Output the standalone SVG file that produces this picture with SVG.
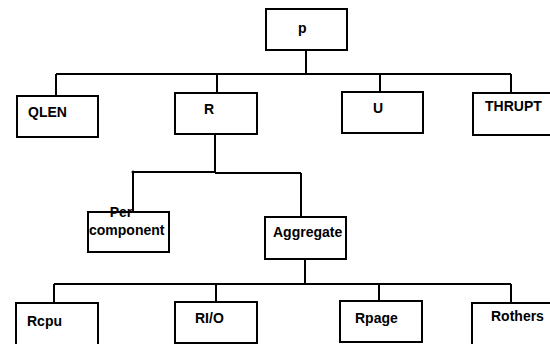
<svg xmlns="http://www.w3.org/2000/svg" width="550" height="344" viewBox="0 0 550 344">
<style>
.box{fill:#fff;stroke:#000;stroke-width:2}
.ln{fill:none;stroke:#000;stroke-width:2}
text{font-family:"Liberation Sans",Arial,sans-serif;font-weight:bold;font-size:14px;fill:#000}
</style>
<rect width="550" height="344" fill="#fff"/>
<g id="connectors">
<path class="ln" d="M306 50V74M56 74H511M56 74V96M217 74V93M380 74V92M511 74V93"/>
<path class="ln" d="M215 134V173M133 172H215M215 173H301M133 172V212M301 173V217"/>
<circle cx="133" cy="172" r="1.5" fill="#000"/>
<path class="ln" d="M305 259V284M54 284H511M54 284V303M216 284V302M379 284V301M511 284V303"/>
</g>
<g id="p"><rect class="box" x="266" y="9" width="81" height="41"/><text x="298" y="33">p</text></g>
<g id="QLEN"><rect class="box" x="17" y="96" width="81" height="41"/><text x="28" y="117">QLEN</text></g>
<g id="R"><rect class="box" x="175" y="93" width="82" height="41"/><text x="204" y="114">R</text></g>
<g id="U"><rect class="box" x="342" y="92" width="81" height="41"/><text x="373" y="113">U</text></g>
<g id="THRUPT"><rect class="box" x="473" y="93" width="82" height="42"/><text x="485" y="111">THRUPT</text></g>
<g id="PerComponent"><rect class="box" x="88" y="212" width="81" height="40"/><text x="121" y="217" text-anchor="middle">Per</text><text x="89" y="235">component</text></g>
<g id="Aggregate"><rect class="box" x="265" y="217" width="81" height="42"/><text x="273" y="237">Aggregate</text></g>
<g id="Rcpu"><rect class="box" x="16" y="303" width="82" height="44"/><text x="27" y="326">Rcpu</text></g>
<g id="RIO"><rect class="box" x="175" y="302" width="82" height="41"/><text x="195" y="323">RI/O</text></g>
<g id="Rpage"><rect class="box" x="340" y="301" width="82" height="41"/><text x="355" y="323">Rpage</text></g>
<g id="Rothers"><rect class="box" x="472" y="303" width="83" height="44"/><text x="491" y="321">Rothers</text></g>
</svg>
